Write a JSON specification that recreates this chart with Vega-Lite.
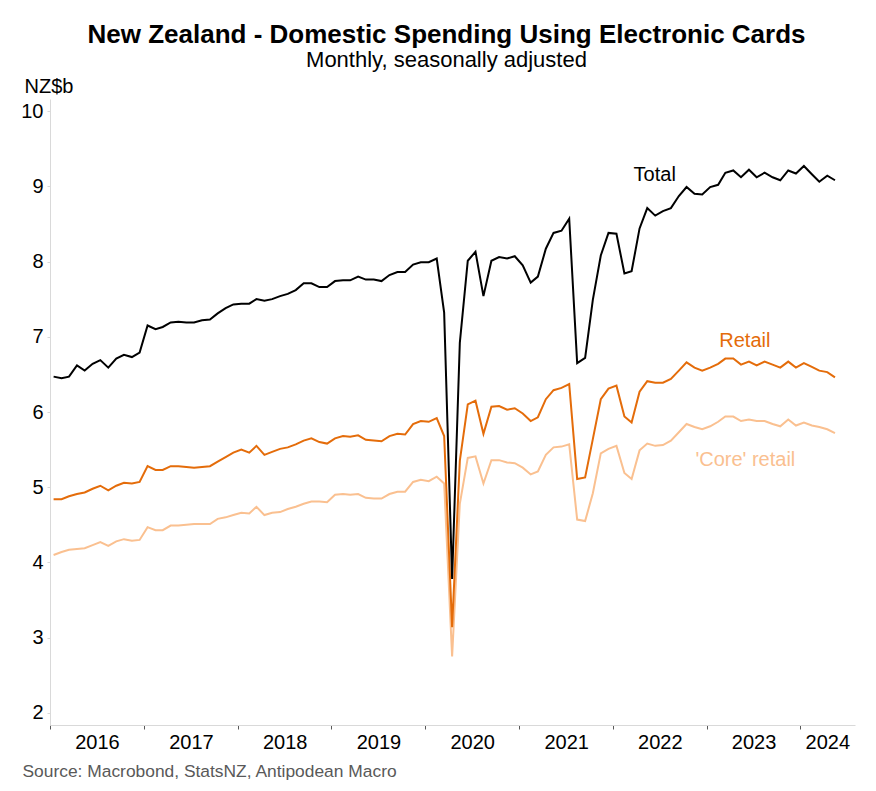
{
  "$schema": "https://vega.github.io/schema/vega-lite/v6.json",
  "autosize": {"type": "none"},
  "padding": {"left": 50, "top": 99, "right": 21, "bottom": 66},
  "width": 805,
  "height": 626,
  "background": "white",
  "config": {
    "view": {"stroke": null},
    "font": "Liberation Sans"
  },
  "title": {
    "text": "New Zealand - Domestic Spending Using Electronic Cards",
    "subtitle": "Monthly, seasonally adjusted",
    "anchor": "middle",
    "frame": "group",
    "dx": -6,
    "dy": -5,
    "offset": 0,
    "font": "Liberation Sans",
    "fontSize": 26,
    "fontWeight": "bold",
    "color": "#000000",
    "subtitleFont": "Liberation Sans",
    "subtitleFontSize": 22,
    "subtitleColor": "#000000",
    "subtitlePadding": 2
  },
  "datasets": {
    "series": [
      {"date": "2016-01-15", "total": 6.47, "retail": 4.84, "core": 4.10},
      {"date": "2016-02-15", "total": 6.45, "retail": 4.84, "core": 4.14},
      {"date": "2016-03-15", "total": 6.47, "retail": 4.88, "core": 4.17},
      {"date": "2016-04-15", "total": 6.62, "retail": 4.91, "core": 4.18},
      {"date": "2016-05-15", "total": 6.55, "retail": 4.93, "core": 4.19},
      {"date": "2016-06-15", "total": 6.64, "retail": 4.98, "core": 4.23},
      {"date": "2016-07-15", "total": 6.69, "retail": 5.02, "core": 4.27},
      {"date": "2016-08-15", "total": 6.59, "retail": 4.96, "core": 4.22},
      {"date": "2016-09-15", "total": 6.71, "retail": 5.02, "core": 4.28},
      {"date": "2016-10-15", "total": 6.76, "retail": 5.06, "core": 4.31},
      {"date": "2016-11-15", "total": 6.73, "retail": 5.05, "core": 4.29},
      {"date": "2016-12-15", "total": 6.79, "retail": 5.07, "core": 4.30},
      {"date": "2017-01-15", "total": 7.15, "retail": 5.28, "core": 4.47},
      {"date": "2017-02-15", "total": 7.10, "retail": 5.23, "core": 4.43},
      {"date": "2017-03-15", "total": 7.13, "retail": 5.23, "core": 4.43},
      {"date": "2017-04-15", "total": 7.19, "retail": 5.28, "core": 4.49},
      {"date": "2017-05-15", "total": 7.20, "retail": 5.28, "core": 4.49},
      {"date": "2017-06-15", "total": 7.19, "retail": 5.27, "core": 4.50},
      {"date": "2017-07-15", "total": 7.19, "retail": 5.26, "core": 4.51},
      {"date": "2017-08-15", "total": 7.22, "retail": 5.27, "core": 4.51},
      {"date": "2017-09-15", "total": 7.23, "retail": 5.28, "core": 4.51},
      {"date": "2017-10-15", "total": 7.31, "retail": 5.34, "core": 4.58},
      {"date": "2017-11-15", "total": 7.38, "retail": 5.40, "core": 4.60},
      {"date": "2017-12-15", "total": 7.43, "retail": 5.46, "core": 4.63},
      {"date": "2018-01-15", "total": 7.44, "retail": 5.50, "core": 4.66},
      {"date": "2018-02-15", "total": 7.44, "retail": 5.46, "core": 4.65},
      {"date": "2018-03-15", "total": 7.50, "retail": 5.55, "core": 4.74},
      {"date": "2018-04-15", "total": 7.48, "retail": 5.43, "core": 4.63},
      {"date": "2018-05-15", "total": 7.50, "retail": 5.47, "core": 4.66},
      {"date": "2018-06-15", "total": 7.54, "retail": 5.51, "core": 4.67},
      {"date": "2018-07-15", "total": 7.57, "retail": 5.53, "core": 4.71},
      {"date": "2018-08-15", "total": 7.62, "retail": 5.57, "core": 4.74},
      {"date": "2018-09-15", "total": 7.71, "retail": 5.62, "core": 4.78},
      {"date": "2018-10-15", "total": 7.71, "retail": 5.65, "core": 4.81},
      {"date": "2018-11-15", "total": 7.66, "retail": 5.60, "core": 4.81},
      {"date": "2018-12-15", "total": 7.66, "retail": 5.58, "core": 4.80},
      {"date": "2019-01-15", "total": 7.74, "retail": 5.65, "core": 4.90},
      {"date": "2019-02-15", "total": 7.75, "retail": 5.68, "core": 4.91},
      {"date": "2019-03-15", "total": 7.75, "retail": 5.67, "core": 4.90},
      {"date": "2019-04-15", "total": 7.80, "retail": 5.69, "core": 4.91},
      {"date": "2019-05-15", "total": 7.76, "retail": 5.63, "core": 4.86},
      {"date": "2019-06-15", "total": 7.76, "retail": 5.62, "core": 4.85},
      {"date": "2019-07-15", "total": 7.74, "retail": 5.61, "core": 4.85},
      {"date": "2019-08-15", "total": 7.82, "retail": 5.68, "core": 4.91},
      {"date": "2019-09-15", "total": 7.86, "retail": 5.71, "core": 4.94},
      {"date": "2019-10-15", "total": 7.86, "retail": 5.70, "core": 4.94},
      {"date": "2019-11-15", "total": 7.96, "retail": 5.84, "core": 5.07},
      {"date": "2019-12-15", "total": 7.99, "retail": 5.88, "core": 5.10},
      {"date": "2020-01-15", "total": 7.99, "retail": 5.87, "core": 5.08},
      {"date": "2020-02-15", "total": 8.04, "retail": 5.92, "core": 5.14},
      {"date": "2020-03-15", "total": 7.32, "retail": 5.68, "core": 5.05},
      {"date": "2020-04-15", "total": 3.78, "retail": 3.14, "core": 2.75},
      {"date": "2020-05-15", "total": 6.92, "retail": 5.35, "core": 4.78},
      {"date": "2020-06-15", "total": 8.01, "retail": 6.10, "core": 5.39},
      {"date": "2020-07-15", "total": 8.13, "retail": 6.15, "core": 5.41},
      {"date": "2020-08-15", "total": 7.54, "retail": 5.71, "core": 5.05},
      {"date": "2020-09-15", "total": 8.01, "retail": 6.07, "core": 5.36},
      {"date": "2020-10-15", "total": 8.06, "retail": 6.08, "core": 5.36},
      {"date": "2020-11-15", "total": 8.04, "retail": 6.03, "core": 5.33},
      {"date": "2020-12-15", "total": 8.07, "retail": 6.05, "core": 5.32},
      {"date": "2021-01-15", "total": 7.95, "retail": 5.98, "core": 5.26},
      {"date": "2021-02-15", "total": 7.72, "retail": 5.88, "core": 5.17},
      {"date": "2021-03-15", "total": 7.80, "retail": 5.93, "core": 5.21},
      {"date": "2021-04-15", "total": 8.17, "retail": 6.17, "core": 5.43},
      {"date": "2021-05-15", "total": 8.38, "retail": 6.29, "core": 5.53},
      {"date": "2021-06-15", "total": 8.41, "retail": 6.32, "core": 5.54},
      {"date": "2021-07-15", "total": 8.57, "retail": 6.37, "core": 5.57},
      {"date": "2021-08-15", "total": 6.65, "retail": 5.11, "core": 4.57},
      {"date": "2021-09-15", "total": 6.72, "retail": 5.13, "core": 4.55},
      {"date": "2021-10-15", "total": 7.49, "retail": 5.64, "core": 4.92},
      {"date": "2021-11-15", "total": 8.08, "retail": 6.17, "core": 5.45},
      {"date": "2021-12-15", "total": 8.38, "retail": 6.31, "core": 5.51},
      {"date": "2022-01-15", "total": 8.37, "retail": 6.35, "core": 5.55},
      {"date": "2022-02-15", "total": 7.84, "retail": 5.94, "core": 5.19},
      {"date": "2022-03-15", "total": 7.87, "retail": 5.86, "core": 5.11},
      {"date": "2022-04-15", "total": 8.44, "retail": 6.27, "core": 5.49},
      {"date": "2022-05-15", "total": 8.71, "retail": 6.41, "core": 5.58},
      {"date": "2022-06-15", "total": 8.61, "retail": 6.39, "core": 5.55},
      {"date": "2022-07-15", "total": 8.67, "retail": 6.39, "core": 5.56},
      {"date": "2022-08-15", "total": 8.71, "retail": 6.44, "core": 5.62},
      {"date": "2022-09-15", "total": 8.87, "retail": 6.55, "core": 5.73},
      {"date": "2022-10-15", "total": 8.99, "retail": 6.66, "core": 5.84},
      {"date": "2022-11-15", "total": 8.90, "retail": 6.59, "core": 5.80},
      {"date": "2022-12-15", "total": 8.89, "retail": 6.55, "core": 5.77},
      {"date": "2023-01-15", "total": 8.99, "retail": 6.59, "core": 5.81},
      {"date": "2023-02-15", "total": 9.02, "retail": 6.64, "core": 5.87},
      {"date": "2023-03-15", "total": 9.18, "retail": 6.71, "core": 5.94},
      {"date": "2023-04-15", "total": 9.21, "retail": 6.71, "core": 5.94},
      {"date": "2023-05-15", "total": 9.12, "retail": 6.63, "core": 5.88},
      {"date": "2023-06-15", "total": 9.22, "retail": 6.67, "core": 5.90},
      {"date": "2023-07-15", "total": 9.12, "retail": 6.62, "core": 5.88},
      {"date": "2023-08-15", "total": 9.18, "retail": 6.67, "core": 5.88},
      {"date": "2023-09-15", "total": 9.12, "retail": 6.63, "core": 5.84},
      {"date": "2023-10-15", "total": 9.08, "retail": 6.59, "core": 5.81},
      {"date": "2023-11-15", "total": 9.21, "retail": 6.67, "core": 5.90},
      {"date": "2023-12-15", "total": 9.17, "retail": 6.59, "core": 5.82},
      {"date": "2024-01-15", "total": 9.27, "retail": 6.65, "core": 5.86},
      {"date": "2024-02-15", "total": 9.16, "retail": 6.60, "core": 5.82},
      {"date": "2024-03-15", "total": 9.06, "retail": 6.55, "core": 5.80},
      {"date": "2024-04-15", "total": 9.14, "retail": 6.53, "core": 5.77},
      {"date": "2024-05-15", "total": 9.08, "retail": 6.46, "core": 5.72}
    ],
    "labels": [
      {"date": "2022-06-13", "value": 9.15, "label": "Total", "series": "total"},
      {"date": "2023-05-30", "value": 6.94, "label": "Retail", "series": "retail"},
      {"date": "2023-06-01", "value": 5.36, "label": "'Core' retail", "series": "core"}
    ]
  },
  "layer": [
    {
      "data": {"name": "series"},
      "mark": {"type": "line", "color": "#FAC090", "strokeWidth": 2, "strokeJoin": "miter", "clip": true},
      "encoding": {
        "x": {
          "field": "date",
          "type": "temporal",
          "scale": {
            "type": "utc",
            "domain": [{"year": 2016, "month": 1, "date": 1, "utc": true}, {"year": 2024, "month": 8, "date": 1, "utc": true}],
            "nice": false
          },
          "axis": {
            "values": [
              {"year": 2016, "month": 1, "date": 1, "utc": true},
              {"year": 2017, "month": 1, "date": 1, "utc": true},
              {"year": 2018, "month": 1, "date": 1, "utc": true},
              {"year": 2019, "month": 1, "date": 1, "utc": true},
              {"year": 2020, "month": 1, "date": 1, "utc": true},
              {"year": 2021, "month": 1, "date": 1, "utc": true},
              {"year": 2022, "month": 1, "date": 1, "utc": true},
              {"year": 2023, "month": 1, "date": 1, "utc": true},
              {"year": 2024, "month": 1, "date": 1, "utc": true}
            ],
            "labelExpr": "utcFormat(datum.value, '%Y')",
            "labelOffset": {"condition": {"test": "utcyear(datum.value) == 2024", "value": 27}, "value": 47},
            "labelFlush": false,
            "labelOverlap": false,
            "labelBound": false,
            "labelFont": "Liberation Sans",
            "labelFontSize": 20,
            "labelColor": "#000000",
            "labelPadding": 3,
            "labelAlign": "center",
            "labelBaseline": "top",
            "grid": false,
            "domainColor": "#D9D9D9",
            "domainWidth": 1,
            "tickColor": "#595959",
            "tickSize": 4,
            "tickWidth": 1,
            "title": "Source: Macrobond, StatsNZ, Antipodean Macro",
            "titleFont": "Liberation Sans",
            "titleFontSize": 17.4,
            "titleFontWeight": "normal",
            "titleColor": "#595959",
            "titleAlign": "left",
            "titleAnchor": null,
            "titleBaseline": "alphabetic",
            "titleX": -28,
            "titleY": 51
          }
        },
        "y": {
          "field": "core",
          "type": "quantitative",
          "scale": {"domain": [1.84, 10.16], "nice": false, "zero": false},
          "axis": {
            "values": [2, 3, 4, 5, 6, 7, 8, 9, 10],
            "format": "d",
            "grid": false,
            "labelFont": "Liberation Sans",
            "labelFontSize": 20,
            "labelColor": "#000000",
            "labelPadding": 4,
            "domainColor": "#D9D9D9",
            "tickColor": "#D9D9D9",
            "tickSize": 3,
            "title": "NZ$b",
            "titleAngle": 0,
            "titleFont": "Liberation Sans",
            "titleFontSize": 20,
            "titleFontWeight": "normal",
            "titleColor": "#000000",
            "titleAlign": "left",
            "titleAnchor": null,
            "titleBaseline": "alphabetic",
            "titleX": -26,
            "titleY": -7
          }
        }
      }
    },
    {
      "data": {"name": "series"},
      "mark": {"type": "line", "color": "#E46C0A", "strokeWidth": 2, "strokeJoin": "miter", "clip": true},
      "encoding": {
        "x": {"field": "date", "type": "temporal"},
        "y": {"field": "retail", "type": "quantitative"}
      }
    },
    {
      "data": {"name": "series"},
      "mark": {"type": "line", "color": "#000000", "strokeWidth": 2, "strokeJoin": "miter", "clip": true},
      "encoding": {
        "x": {"field": "date", "type": "temporal"},
        "y": {"field": "total", "type": "quantitative"}
      }
    },
    {
      "data": {"name": "labels"},
      "mark": {"type": "text", "font": "Liberation Sans", "fontSize": 20, "align": "center", "baseline": "middle"},
      "encoding": {
        "x": {"field": "date", "type": "temporal"},
        "y": {"field": "value", "type": "quantitative"},
        "text": {"field": "label"},
        "color": {
          "field": "series",
          "type": "nominal",
          "scale": {"domain": ["total", "retail", "core"], "range": ["#000000", "#E46C0A", "#FAC090"]},
          "legend": null
        }
      }
    }
  ]
}
